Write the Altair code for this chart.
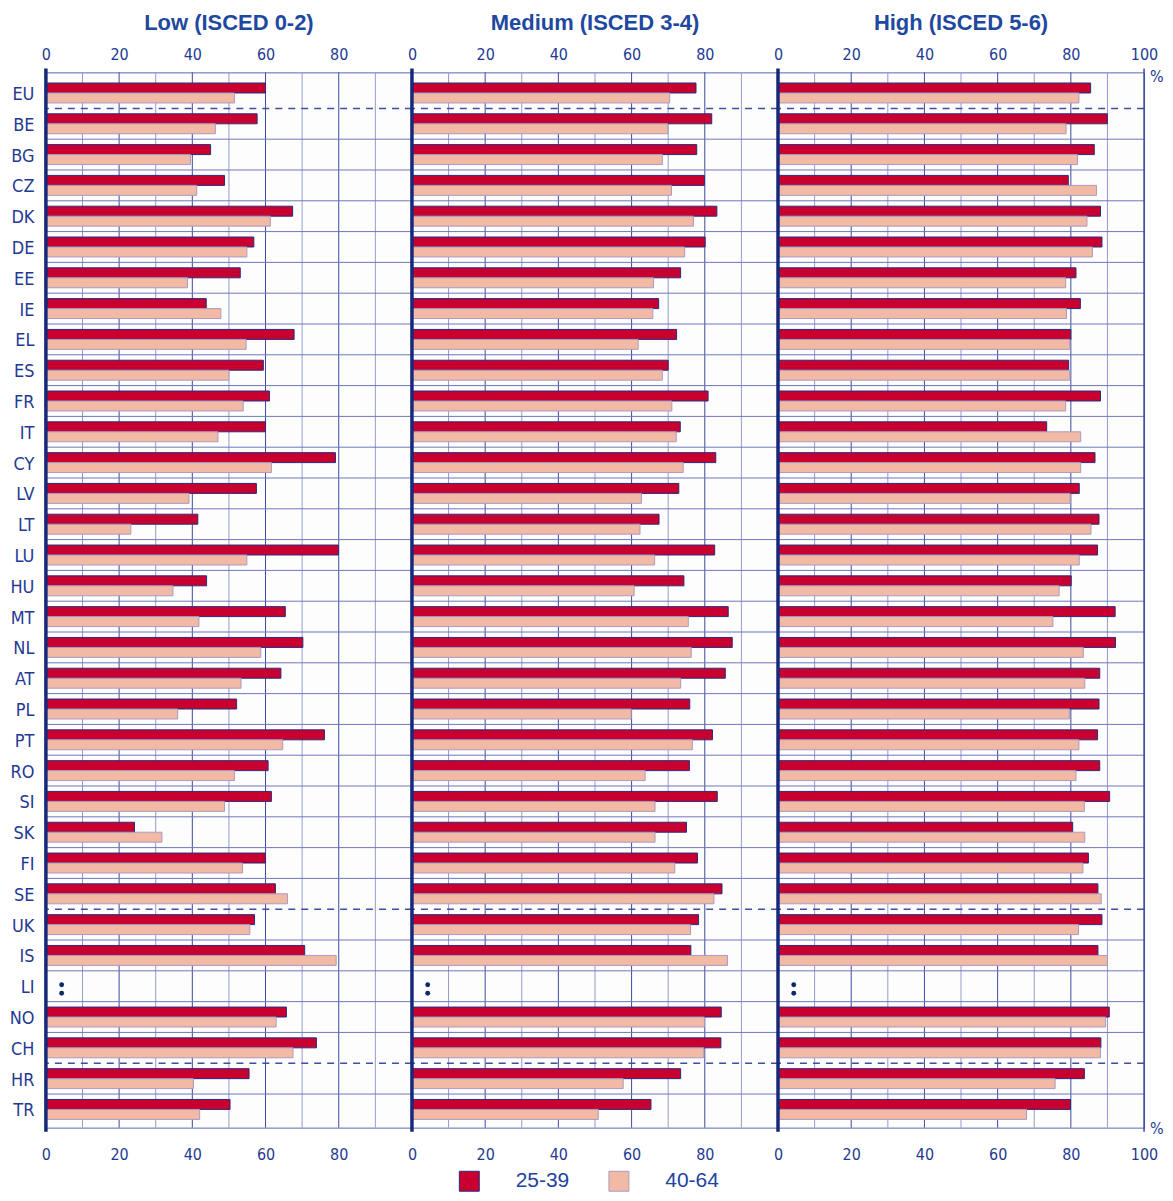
import altair as alt
import pandas as pd

# ---------------- data ----------------
countries = ["EU", "BE", "BG", "CZ", "DK", "DE", "EE", "IE", "EL", "ES", "FR", "IT",
             "CY", "LV", "LT", "LU", "HU", "MT", "NL", "AT", "PL", "PT", "RO", "SI",
             "SK", "FI", "SE", "UK", "IS", "LI", "NO", "CH", "HR", "TR"]
ages = ["25-39", "40-64"]
levels = ["Low (ISCED 0-2)", "Medium (ISCED 3-4)", "High (ISCED 5-6)"]

low_2539 = [60.0, 57.7, 45.0, 48.8, 67.4, 56.8, 53.1, 43.8, 67.8, 59.4, 61.1, 60.0,
            79.1, 57.5, 41.5, 79.9, 43.9, 65.4, 70.2, 64.2, 52.1, 76.1, 60.7, 61.6,
            24.2, 60.0, 62.7, 57.0, 70.7, None, 65.7, 73.9, 55.5, 50.3]
low_4064 = [51.5, 46.3, 39.5, 41.2, 61.3, 54.9, 38.7, 47.8, 54.7, 50.0, 53.9, 47.0,
            61.6, 39.1, 23.2, 54.9, 34.7, 41.8, 58.7, 53.3, 36.0, 64.7, 51.5, 48.8,
            31.7, 53.7, 66.0, 55.7, 79.3, None, 62.9, 67.5, 40.3, 42.0]
med_2539 = [77.6, 81.9, 77.8, 79.9, 83.3, 80.1, 73.4, 67.4, 72.3, 70.0, 80.9, 73.3,
            83.0, 72.9, 67.5, 82.7, 74.3, 86.4, 87.5, 85.6, 75.9, 82.1, 75.8, 83.4,
            75.0, 78.0, 84.7, 78.3, 76.2, None, 84.5, 84.4, 73.4, 65.3]
med_4064 = [70.4, 69.9, 68.4, 70.9, 76.9, 74.5, 66.0, 65.8, 61.8, 68.4, 71.0, 72.2,
            74.1, 62.7, 62.3, 66.3, 60.7, 75.5, 76.3, 73.4, 59.9, 76.6, 63.7, 66.4,
            66.4, 71.8, 82.5, 76.1, 86.2, None, 79.9, 79.7, 57.7, 50.9]
high_2539 = [85.4, 90.0, 86.4, 79.3, 88.1, 88.5, 81.4, 82.6, 80.0, 79.4, 88.1, 73.4,
             86.6, 82.3, 87.7, 87.3, 80.1, 92.1, 92.2, 87.9, 87.7, 87.3, 87.9, 90.6,
             80.5, 84.8, 87.4, 88.5, 87.4, None, 90.5, 88.2, 83.7, 79.9]
high_4064 = [82.2, 78.7, 81.8, 87.0, 84.4, 85.9, 78.6, 78.8, 79.7, 79.7, 78.6, 82.7,
             82.7, 79.8, 85.5, 82.3, 76.8, 75.1, 83.4, 83.8, 79.6, 82.2, 81.4, 83.7,
             83.8, 83.3, 88.3, 82.1, 90.0, None, 89.5, 88.1, 75.7, 67.9]

series = {
    levels[0]: (low_2539, low_4064),
    levels[1]: (med_2539, med_4064),
    levels[2]: (high_2539, high_4064),
}

# group separators (dashed line above these rows)
dashed_rows = ["BE", "UK", "HR"]
major_grid = [20, 40, 60, 80]
minor_grid = [10, 30, 50, 70, 90]
ticks_inner = [0, 20, 40, 60, 80]
ticks_last = [0, 20, 40, 60, 80, 100]
na_marker_x = 4.3          # ':' (not available) marker position

rows = []
for lev, (a, b) in series.items():
    for c, v1, v2 in zip(countries, a, b):
        rows.append({"level": lev, "country": c, "age": ages[0], "value": v1})
        rows.append({"level": lev, "country": c, "age": ages[1], "value": v2})
df = pd.DataFrame(rows)

missing = [c for c, v in zip(countries, low_2539) if v is None]
solid_rows = [c for c in countries[1:] if c not in dashed_rows]

# ---------------- style ----------------
NARROW = "Liberation Sans Narrow, DejaVu Sans Condensed, sans-serif"
SANS = "Liberation Sans, Arial, sans-serif"
TXT = "#1f3a93"
AXIS = "#16287a"
MAJOR = "#3b4a9e"
MINOR = "#959bcc"
ROWLINE = "#6c77ba"
DASH = "#3f4f9f"
DARK = "#c8002f"
LIGHT = "#f2b9a4"
DARK_STROKE = "#2c2a7c"
LIGHT_STROKE = "#a99bc2"
DOT = "#0d2a66"

W, H = 367, 1058
xscale = alt.Scale(domain=[0, 100], nice=False, zero=False)
yscale = alt.Scale(domain=countries, paddingInner=0, paddingOuter=0.13, align=0.65)


def xaxis(orient, values):
    return alt.Axis(orient=orient, values=values, title=None, ticks=False, domain=False,
                    grid=False, labelFont=NARROW, labelFontSize=16, labelColor=TXT,
                    labelFlush=False, labelPadding=10 if orient == "top" else 19)


def panel(i, lev):
    sub = df[df["level"] == lev]
    first = i == 0
    last = i == len(levels) - 1
    tv = ticks_last if last else ticks_inner

    yaxis = alt.Axis(title=None, labels=first, ticks=False, grid=False, domain=False,
                     labelFont=NARROW, labelFontSize=18, labelColor=TXT,
                     labelPadding=12, labelAngle=0, labelBaseline="middle", labelOffset=2)

    def Y(**kw):
        return alt.Y("country:N", scale=yscale, axis=yaxis, **kw)

    minor = alt.Chart(pd.DataFrame({"x": minor_grid})).mark_rule(
        color=MINOR, strokeWidth=1).encode(
        x=alt.X("x:Q", scale=xscale, axis=xaxis("bottom", tv)))
    major = alt.Chart(pd.DataFrame({"x": major_grid})).mark_rule(
        color=MAJOR, strokeWidth=1).encode(
        x=alt.X("x:Q", scale=xscale, axis=xaxis("top", tv)))
    rowlines = alt.Chart(pd.DataFrame({"country": solid_rows})).mark_rule(
        color=ROWLINE, strokeWidth=1).encode(y=Y(bandPosition=0))
    dashed = alt.Chart(pd.DataFrame({"country": dashed_rows})).mark_rule(
        color=DASH, strokeWidth=1.5, strokeDash=[7, 6]).encode(y=Y(bandPosition=0))
    zero_line = alt.Chart(pd.DataFrame({"x": [0]})).mark_rule(
        color=AXIS, strokeWidth=3.5).encode(
        x=alt.X("x:Q", scale=xscale, axis=None),
        y=alt.value(-4), y2=alt.value(H + 4))
    bars = alt.Chart(sub).mark_bar(strokeWidth=1).encode(
        x=alt.X("value:Q", scale=xscale, axis=None),
        y=Y(),
        yOffset=alt.YOffset("age:N", scale=alt.Scale(domain=ages, paddingInner=0,
                                                     paddingOuter=0.545)),
        fill=alt.Fill("age:N", scale=alt.Scale(domain=ages, range=[DARK, LIGHT]),
                      legend=alt.Legend(title=None)),
        stroke=alt.Stroke("age:N", scale=alt.Scale(domain=ages,
                                                   range=[DARK_STROKE, LIGHT_STROKE]),
                          legend=alt.Legend(title=None)),
    )
    na_df = pd.DataFrame({"country": missing, "x": [na_marker_x] * len(missing)})
    na_dots = [
        alt.Chart(na_df).mark_circle(size=24, color=DOT, opacity=1).encode(
            x=alt.X("x:Q", scale=xscale, axis=None), y=Y(), yOffset=alt.value(off))
        for off in (14, 22.5)
    ]

    layers = [minor, major, rowlines, dashed, bars, *na_dots, zero_line]
    if last:
        pct = pd.DataFrame({"t": ["%"]})
        for yy in (5, H + 1):
            layers.append(alt.Chart(pct).mark_text(
                align="left", baseline="middle", fontSize=16, font=NARROW, color=TXT).encode(
                text="t:N", x=alt.value(W + 6), y=alt.value(yy)))
        layers.append(alt.Chart(pd.DataFrame({"x": [100]})).mark_rule(
            color=MAJOR, strokeWidth=1.5).encode(
            x=alt.X("x:Q", scale=xscale, axis=None),
            y=alt.value(-4), y2=alt.value(H + 4)))
    return alt.layer(*layers).resolve_axis(x="independent").properties(
        width=W, height=H,
        title=alt.TitleParams(lev, fontSize=22, font=SANS, fontWeight="bold",
                              color="#1f48a0", anchor="middle", offset=11))


chart = alt.hconcat(*[panel(i, lev) for i, lev in enumerate(levels)],
                    spacing=0, bounds="flush").resolve_scale(
    fill="shared", stroke="shared").configure_view(
    stroke="#5a66b0", strokeWidth=1, fill="#fdfdfe").configure_legend(
    orient="none", legendX=414, legendY=1101, direction="horizontal",
    symbolType="square", symbolSize=400, symbolStrokeWidth=1,
    labelFont=SANS, labelFontSize=21, labelColor="#2242a0",
    labelOffset=36, columnPadding=37, padding=0).properties(
    padding={"left": 0, "top": 2, "right": 0, "bottom": 0},
    background="white")

chart.save("out.html", embed_options={"renderer": "svg", "actions": False})
